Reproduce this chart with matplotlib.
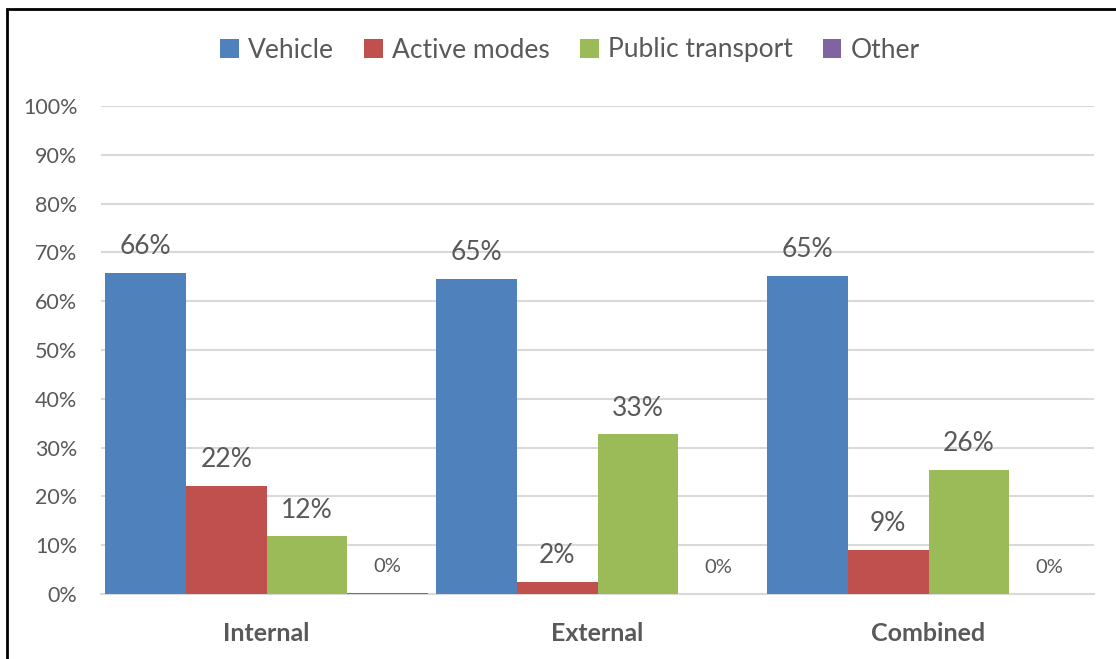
import numpy as np
import matplotlib

matplotlib.use("Agg")
import matplotlib.pyplot as plt
from matplotlib.patches import Rectangle


categories = ["Internal", "External", "Combined"]
series_names = ["Vehicle", "Active modes", "Public transport", "Other"]
vehicle = [0.658, 0.646, 0.651]
active_modes = [0.222, 0.024, 0.091]
public_transport = [0.118, 0.327, 0.255]
other = [0.003, 0.0, 0.0]
colors = ["#4f81bd", "#c0504d", "#9bbb59", "#8064a2"]

TEXT = "#595959"
GRID = "#d9d9d9"

plt.rcParams["font.family"] = ["Lato", "DejaVu Sans"]

fig = plt.figure(figsize=(11.16, 6.59), dpi=100)
ax = fig.add_axes([101 / 1116, 1 - 594 / 659, 993 / 1116, 488 / 659])

x = np.arange(len(categories))
width = 0.2435
all_series = [vehicle, active_modes, public_transport, other]
for i, (name, vals) in enumerate(zip(series_names, all_series)):
    pos = x + (i - 1.5) * width
    ax.bar(pos, vals, width=width, color=colors[i], label=name, zorder=3)
    for xp, v in zip(pos, vals):
        pct = "{:.0f}%".format(v * 100)
        size = 19 if v >= 0.005 else 14.5
        ax.annotate(pct, (xp, v), xytext=(0, 19), textcoords="offset points",
                    ha="center", va="center", fontsize=size, color=TEXT)

ax.set_xlim(-0.5, len(categories) - 0.5)
ax.set_ylim(0, 1.0)
ticks = np.arange(0, 1.01, 0.1)
ax.set_yticks(ticks)
ax.set_yticklabels(["{:.0f}%".format(t * 100) for t in ticks])
ax.set_xticks(x)
ax.set_xticklabels(categories, fontweight="bold")
ax.tick_params(axis="y", length=0, pad=17, labelsize=15.5, labelcolor=TEXT)
ax.tick_params(axis="x", length=0, pad=20, labelsize=18, labelcolor=TEXT)
ax.yaxis.grid(True, color=GRID, linewidth=1.5, zorder=0)
ax.set_axisbelow(True)
for side in ["top", "right", "left"]:
    ax.spines[side].set_visible(False)
ax.spines["bottom"].set_color(GRID)
ax.spines["bottom"].set_linewidth(1.5)

fig.legend(loc="center", bbox_to_anchor=(570 / 1116, 1 - 50 / 659), ncol=4, frameon=False,
           fontsize=19, labelcolor=TEXT, handlelength=0.7, handleheight=0.7,
           handletextpad=0.35, columnspacing=1.15)

fig.patches.append(Rectangle((7 / 1116, -0.02), 1.05, 1 - 9 / 659 + 0.02,
                             transform=fig.transFigure, fill=False,
                             edgecolor="black", linewidth=2))

fig.savefig("out.png", dpi=100)
